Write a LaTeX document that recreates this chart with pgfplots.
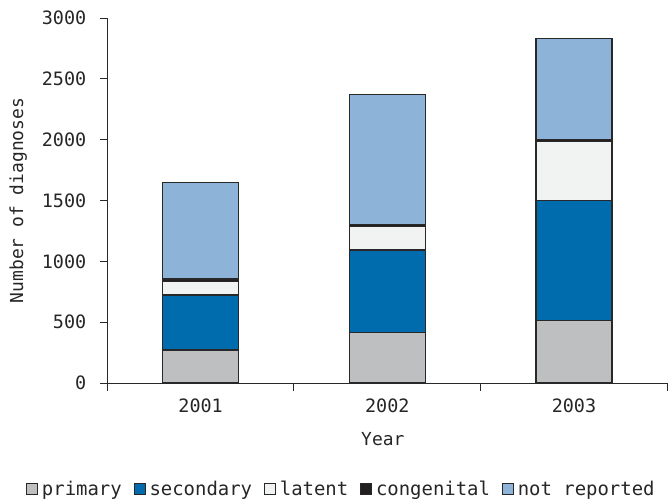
\documentclass[border=0pt]{standalone}
\usepackage{pgfplots}
\pgfplotsset{compat=1.18}
\usepackage{fontspec}
\setmainfont{DejaVu Sans Mono}
\definecolor{cprim}{RGB}{190,191,193}
\definecolor{csec}{RGB}{0,107,173}
\definecolor{clat}{RGB}{241,242,242}
\definecolor{ccon}{RGB}{35,31,32}
\definecolor{cnot}{RGB}{141,179,217}
\definecolor{cedge}{RGB}{40,40,40}
\begin{document}
\begin{tikzpicture}
\begin{axis}[
  name=ax,
  scale only axis,
  width=560bp, height=365bp,
  ybar stacked,
  bar width=76bp,
  xmin=-0.5, xmax=2.5,
  ymin=0, ymax=3000,
  axis x line=bottom, axis y line=left,
  axis line style={-, draw=cedge, line width=1pt},
  tick align=outside,
  major tick length=7.5bp,
  xtick={-0.5,0.5,1.5,2.5},
  xticklabels={},
  extra x ticks={0,1,2},
  extra x tick labels={2001,2002,2003},
  extra x tick style={major tick length=0pt},
  ytick={0,500,...,3000},
  every tick/.style={cedge, line width=1pt},
  /pgf/number format/assume math mode=true,
  /pgf/number format/1000 sep={},
  tick label style={font=\fontsize{18.5}{20}\selectfont, text=black!85},
  yticklabel style={xshift=-10bp},
  xticklabel style={yshift=-12bp},
  xlabel={Year},
  ylabel={Number of diagnoses},
  label style={font=\fontsize{18}{20}\selectfont, text=black!85},
  xlabel style={at={(axis description cs:0.492,-0.153)}, anchor=center},
  ylabel style={at={(axis description cs:-0.159,0.5)}, anchor=center},
  legend columns=-1,
  legend style={at={(axis description cs:0.418,-0.29)}, anchor=center, draw=none, fill=none,
    font=\fontsize{19}{21}\selectfont, text=black!85,
    /tikz/every even column/.append style={column sep=10bp},
    /tikz/every odd column/.append style={column sep=2bp},
    inner sep=0pt},
  legend image code/.code={\draw[#1, draw=cedge, line width=0.8pt] (0bp,-5.5bp) rectangle (11bp,5.5bp);},
  every axis plot/.append style={draw=cedge, line width=1.1pt},
]
\addplot[fill=cprim] coordinates {(0,271) (1,413) (2,512)};
\addplot[fill=csec] coordinates {(0,452) (1,680) (2,986)};
\addplot[fill=clat] coordinates {(0,110) (1,190) (2,485)};
\addplot[fill=ccon] coordinates {(0,22) (1,20) (2,19)};
\addplot[fill=cnot] coordinates {(0,795) (1,1068) (2,833)};
\legend{primary,secondary,latent,congenital,not reported}
\end{axis}
\pgfresetboundingbox
\path[use as bounding box] ([xshift=-107.3bp,yshift=-116bp]ax.south west) rectangle ++(668bp,499bp);
\end{tikzpicture}
\end{document}
